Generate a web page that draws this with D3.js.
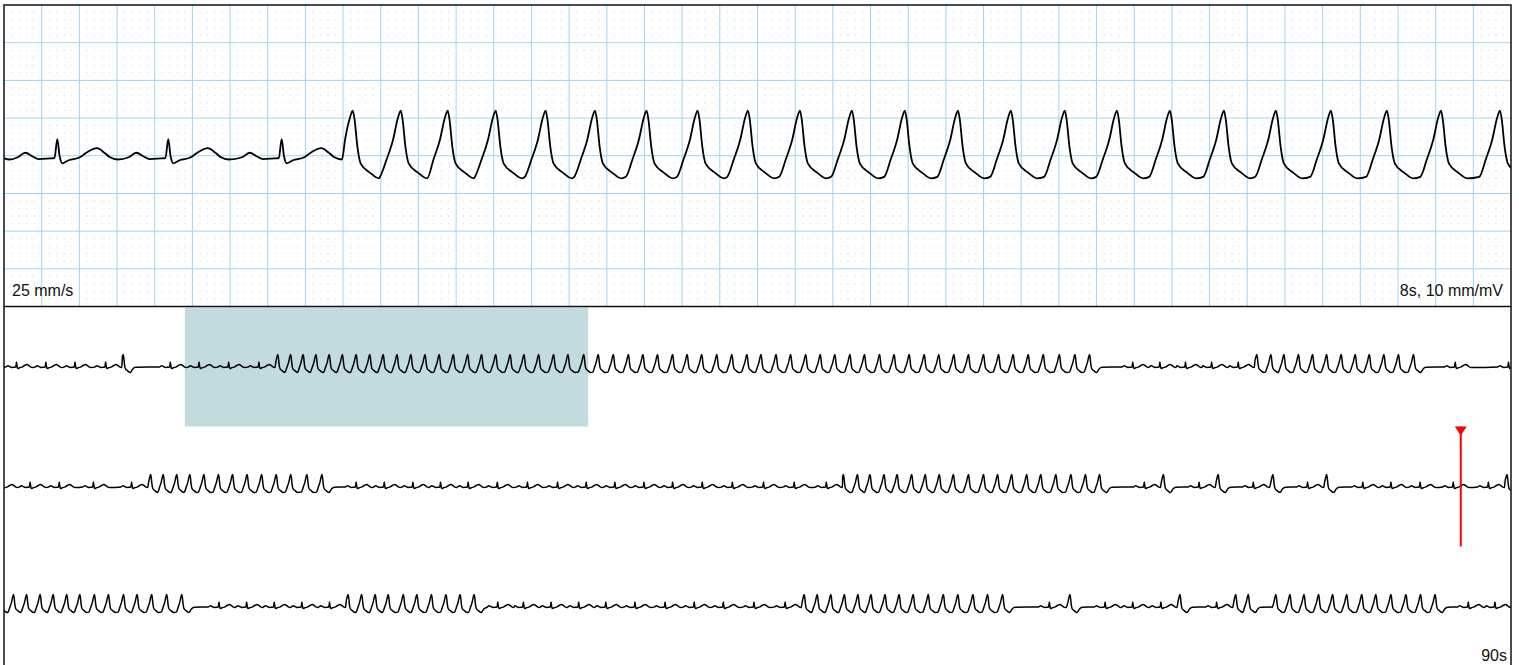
<!DOCTYPE html>
<html>
<head>
<meta charset="utf-8">
<script src="https://cdn.jsdelivr.net/npm/d3@7"></script>
<style>
  body { margin: 0; background: #fff; }
  svg { display: block; font-family: "Liberation Sans", Arial, Helvetica, sans-serif; }
</style>
</head>
<body>
<svg id="chart" width="1519" height="665"></svg>
<script>
// ECG strip: 8 s detail on top, the full 90 s as three 30 s rows below

// narrow (sinus) beats, R peak times in seconds
const normalBeats = [
  0.249, 0.834, 1.414, 2.023, 3.311, 3.883, 4.472, 5.074,
  22.47, 23.01, 23.52, 24.04, 24.57, 28.89, 29.95,
  30.52, 31.10, 31.78, 32.54, 37.01, 37.57, 38.14, 38.69, 39.24, 39.82,
  40.42, 41.02, 41.59, 42.16, 42.74, 43.31, 43.90, 44.50, 45.12, 45.73, 46.37,
  52.70, 53.79, 54.87, 55.95, 57.05, 57.61, 58.19, 58.85, 59.55,
  64.28, 64.83, 65.38, 65.93, 66.48, 69.83, 70.34, 70.89, 71.44, 71.98,
  72.56, 73.16, 73.74, 74.32, 74.93, 75.55, 80.81, 81.92, 82.47, 83.03,
  84.14, 89.15, 89.68
];

// wide (ventricular) beats, peak times in seconds
const wideBeats = [
  2.373,
  5.451, 5.706, 5.955, 6.210, 6.475, 6.737, 7.011, 7.282, 7.549, 7.825,
  8.101, 8.382, 8.664, 8.945, 9.231, 9.508, 9.789, 10.076, 10.352, 10.644,
  10.941, 11.228, 11.541, 11.83, 12.13, 12.43, 12.72, 13.01, 13.31, 13.60,
  13.89, 14.19, 14.49, 14.79, 15.07, 15.37, 15.66, 15.96, 16.25, 16.54,
  16.84, 17.13, 17.43, 17.72, 18.02, 18.32, 18.61, 18.91, 19.20, 19.50,
  19.80, 20.09, 20.39, 20.69, 21.01, 21.32, 21.61,
  24.94, 25.22, 25.48, 25.77, 26.05, 26.33, 26.62, 26.90, 27.18, 27.47, 27.76, 28.06,
  32.92, 33.17, 33.44, 33.70, 33.98, 34.27, 34.55, 34.84, 35.13, 35.42, 35.71, 36.03, 36.33,
  46.71, 46.99, 47.24, 47.52, 47.78, 48.07, 48.34, 48.62, 48.90, 49.20,
  49.50, 49.78, 50.06, 50.36, 50.64, 50.94, 51.24, 51.53, 51.81,
  53.08, 54.17, 55.26, 56.33, 59.92,
  60.19, 60.45, 60.72, 60.98, 61.25, 61.51, 61.80, 62.08, 62.38, 62.65, 62.94, 63.24, 63.54,
  66.85, 67.12, 67.39, 67.65, 67.95, 68.22, 68.51, 68.80, 69.08, 69.36,
  75.93, 76.19, 76.46, 76.73, 77.00, 77.26, 77.54, 77.82, 78.10, 78.40,
  78.70, 78.99, 79.29, 79.58, 79.88,
  81.22, 83.41, 84.52, 84.77,
  85.32, 85.60, 85.88, 86.17, 86.45, 86.73, 87.03, 87.31, 87.61, 87.91, 88.20, 88.49
];

// beat outlines: [seconds from peak, mV]
const normalShape = [
  [-0.21, -0.02], [-0.17, 0.04], [-0.13, -0.01], [-0.10, -0.045], [-0.04, -0.035],
  [-0.015, -0.03], [0, 0.22], [0.012, 0.0], [0.027, -0.10], [0.06, -0.06],
  [0.12, -0.02], [0.16, 0.05], [0.21, 0.10], [0.25, 0.04], [0.28, -0.02], [0.32, -0.05]
];
const wideShape = [
  [-0.11, -0.28], [-0.075, -0.05], [-0.04, 0.22], [-0.015, 0.50], [0, 0.60],
  [0.01, 0.48], [0.025, 0.12], [0.042, -0.10], [0.09, -0.22], [0.14, -0.30]
];
const wideTail = [[0.19, -0.12], [0.25, -0.04]];

const totalSeconds = 90;
const rowStarts = [0, 30, 60];
const rowSeconds = 30;
const detailWindow = [3.6, 11.6];
const markerTime = 59.0;

const speedLabel = "25 mm/s";
const gainLabel = "8s, 10 mm/mV";
const totalLabel = "90s";

// --- layout
const left = 4, right = 1511;
const topY = 5, topH = 301.5;      // 40 mm at 10 mm/mV -> +-2 mV
const rowH = 120;
const rowsTop = topY + topH;

const svg = d3.select('#chart');
const defs = svg.append('defs');

// --- build one continuous trace from the beat list
const beats = normalBeats.map(t => ({t, kind: 'N'}))
  .concat(wideBeats.map(t => ({t, kind: 'V'})))
  .sort((a, b) => a.t - b.t);

const isRun = (a, b) => a && b && a.kind === 'V' && b.kind === 'V' && b.t - a.t < 0.45;

let trace = [[0, -0.02]];
function push(t, v) {
  if (t > trace[trace.length - 1][0] + 0.004) trace.push([t, v]);
}
beats.forEach((b, i) => {
  const prev = beats[i - 1], next = beats[i + 1];
  const shape = b.kind === 'N' ? normalShape : wideShape;
  shape.forEach(([dt, v], j) => {
    // a run's first complex rises straight off the baseline
    if (b.kind === 'V' && j === 0 && !isRun(prev, b)) { dt = -0.09; v = -0.03; }
    push(b.t + dt, v);
  });
  if (b.kind === 'V' && !isRun(b, next)) wideTail.forEach(([dt, v]) => push(b.t + dt, v));
});
push(totalSeconds, -0.02);

// --- detail panel
const xTop = d3.scaleLinear().domain(detailWindow).range([left, right]);
const yTop = d3.scaleLinear().domain([-2, 2]).range([topY + topH, topY]);

const gridColor = '#9fd4ee';
const detail = svg.append('g');

defs.append('clipPath').attr('id', 'clipTop')
  .append('rect').attr('x', left).attr('y', topY).attr('width', right - left).attr('height', topH);

// 1 mm dots (0.04 s x 0.1 mV), skipping the 5 mm lines
const dots = [];
d3.range(1, 200).forEach(i => {
  if (i % 5 === 0) return;
  d3.range(1, 40).forEach(j => {
    if (j % 5 === 0) return;
    dots.push([detailWindow[0] + i * 0.04, -2 + j * 0.1]);
  });
});
detail.append('g').selectAll('rect')
  .data(dots)
  .join('rect')
  .attr('x', d => xTop(d[0]) - 0.5)
  .attr('y', d => yTop(d[1]) - 0.5)
  .attr('width', 1)
  .attr('height', 1)
  .attr('fill', '#b3dcf0');

detail.append('g').selectAll('line')
  .data(d3.range(5, 200, 5))
  .join('line')
  .attr('x1', d => xTop(detailWindow[0] + d * 0.04))
  .attr('x2', d => xTop(detailWindow[0] + d * 0.04))
  .attr('y1', topY).attr('y2', topY + topH)
  .attr('stroke', gridColor).attr('stroke-width', 1);

detail.append('g').selectAll('line')
  .data(d3.range(-1.5, 2, 0.5))
  .join('line')
  .attr('x1', left).attr('x2', right)
  .attr('y1', d => yTop(d)).attr('y2', d => yTop(d))
  .attr('stroke', gridColor).attr('stroke-width', 1);

const lineTop = d3.line()
  .x(d => xTop(d[0]))
  .y(d => yTop(d[1]))
  .curve(d3.curveMonotoneX);

detail.append('path')
  .datum(trace.filter(d => d[0] > detailWindow[0] - 0.5 && d[0] < detailWindow[1] + 0.5))
  .attr('clip-path', 'url(#clipTop)')
  .attr('d', lineTop)
  .attr('fill', 'none')
  .attr('stroke', '#000')
  .attr('stroke-width', 1.8)
  .attr('stroke-linejoin', 'round');

detail.append('text')
  .attr('x', 12).attr('y', 296)
  .attr('font-size', 16)
  .attr('fill', '#111')
  .text(speedLabel);

detail.append('text')
  .attr('x', 1503).attr('y', 296)
  .attr('text-anchor', 'end')
  .attr('font-size', 16)
  .attr('fill', '#111')
  .text(gainLabel);

// --- overview rows
const rows = svg.append('g');

rowStarts.forEach((start, r) => {
  const bandTop = rowsTop + r * rowH;
  const x = d3.scaleLinear().domain([start, start + rowSeconds]).range([left, right]);
  const y = d3.scaleLinear().domain([-3, 3]).range([bandTop + rowH, bandTop]);

  defs.append('clipPath').attr('id', 'clipRow' + r)
    .append('rect').attr('x', left).attr('y', bandTop).attr('width', right - left).attr('height', rowH);

  const g = rows.append('g');

  // the stretch shown in the detail panel
  if (detailWindow[0] >= start && detailWindow[1] <= start + rowSeconds) {
    g.append('rect')
      .attr('x', x(detailWindow[0]))
      .attr('y', bandTop + 1)
      .attr('width', x(detailWindow[1]) - x(detailWindow[0]) + 1.5)
      .attr('height', rowH - 1)
      .attr('fill', '#c1dbdf');
  }

  const line = d3.line()
    .x(d => x(d[0]))
    .y(d => y(d[1]))
    .curve(d3.curveMonotoneX);

  g.append('path')
    .datum(trace.filter(d => d[0] > start - 0.5 && d[0] < start + rowSeconds + 0.5))
    .attr('clip-path', 'url(#clipRow' + r + ')')
    .attr('d', line)
    .attr('fill', 'none')
    .attr('stroke', '#000')
    .attr('stroke-width', 1.5)
    .attr('stroke-linejoin', 'round');

  // playback marker
  if (markerTime >= start && markerTime < start + rowSeconds) {
    const mx = x(markerTime);
    g.append('line')
      .attr('x1', mx).attr('x2', mx)
      .attr('y1', bandTop).attr('y2', bandTop + rowH)
      .attr('stroke', '#ff0000').attr('stroke-width', 2);
    g.append('path')
      .attr('d', `M${mx - 6},${bandTop} L${mx + 6},${bandTop} L${mx},${bandTop + 9} Z`)
      .attr('fill', '#ff0000');
  }
});

rows.append('text')
  .attr('x', 1507).attr('y', 661)
  .attr('text-anchor', 'end')
  .attr('font-size', 16)
  .attr('fill', '#111')
  .text(totalLabel);

// --- frames
const frame = svg.append('g').attr('fill', 'none').attr('stroke', '#111');
frame.append('rect')
  .attr('x', left).attr('y', topY)
  .attr('width', right - left).attr('height', topH)
  .attr('stroke-width', 1.5);
frame.append('line')
  .attr('x1', left).attr('x2', left).attr('y1', rowsTop).attr('y2', 665)
  .attr('stroke-width', 1.5);
frame.append('line')
  .attr('x1', right).attr('x2', right).attr('y1', rowsTop).attr('y2', 665)
  .attr('stroke-width', 1.5);
</script>
</body>
</html>
